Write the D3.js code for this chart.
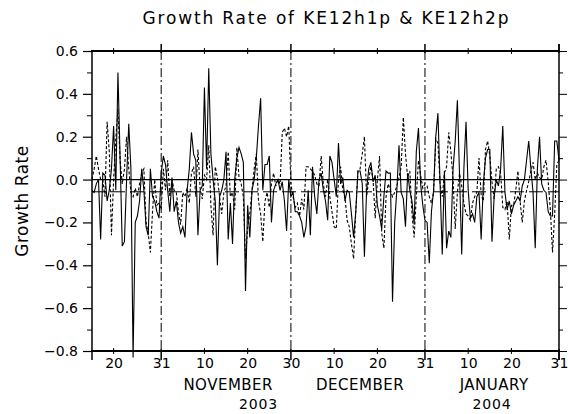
<!DOCTYPE html>
<html>
<head>
<meta charset="utf-8">
<script src="https://cdn.jsdelivr.net/npm/d3@7"></script>
<style>
  html, body { margin: 0; padding: 0; background: #fff; }
  svg { display: block; }
  text { font-family: "DejaVu Sans", sans-serif; fill: #000; }
</style>
</head>
<body>
<svg id="chart" width="568" height="414"></svg>
<script>
// ---- data (12-hourly samples starting 2003-10-15 00:00 UTC) ----
const startDate = "2003-10-15T00:00:00Z";
const stepHours = 12;

const ke12h1p = [
  -0.05,-0.06,-0.02,0.00,-0.28,0.03,0.02,-0.10,-0.05,0.05,
  0.25,-0.05,0.50,0.10,-0.31,-0.29,0.00,0.26,0.05,-0.83,
  -0.20,-0.17,-0.10,0.05,-0.05,-0.22,-0.26,0.05,-0.08,-0.10,
  -0.15,-0.18,0.03,0.11,0.07,-0.05,-0.15,0.01,-0.15,-0.10,
  -0.20,-0.25,-0.22,-0.27,-0.05,0.05,0.22,0.12,0.09,-0.26,
  -0.05,-0.03,0.43,0.05,0.52,0.12,0.00,-0.10,-0.40,-0.08,
  -0.05,0.00,0.13,-0.28,-0.11,-0.30,0.00,0.10,0.15,0.12,
  0.08,-0.52,-0.12,-0.27,-0.05,0.00,0.10,0.25,0.38,-0.05,
  0.07,0.07,0.11,-0.20,-0.05,-0.02,0.00,-0.05,-0.01,-0.10,
  -0.24,0.00,-0.08,-0.06,-0.15,-0.15,-0.17,-0.20,-0.27,-0.22,
  -0.05,-0.26,0.06,-0.08,-0.16,0.00,0.03,-0.05,-0.10,-0.19,
  0.11,0.08,0.00,-0.08,0.17,-0.02,0.01,-0.10,-0.05,-0.06,
  -0.16,-0.27,-0.15,0.04,0.04,-0.02,-0.36,-0.05,0.05,0.08,
  -0.01,0.02,-0.12,-0.17,-0.23,-0.08,0.04,0.03,0.03,-0.57,
  -0.20,-0.05,0.16,-0.06,-0.09,-0.22,0.03,-0.05,-0.10,-0.21,
  0.13,0.24,-0.02,-0.12,-0.19,-0.20,-0.39,-0.15,-0.05,0.20,
  0.31,-0.02,-0.35,0.04,-0.32,-0.24,-0.27,0.05,0.18,0.37,
  0.02,-0.35,0.05,0.27,-0.05,-0.18,-0.16,-0.20,-0.08,-0.06,
  -0.28,-0.02,0.10,0.14,0.14,-0.29,-0.08,0.00,-0.03,0.05,
  0.25,-0.06,-0.14,-0.10,-0.16,-0.12,-0.10,-0.08,-0.10,-0.03,
  0.00,0.09,0.18,0.05,-0.06,-0.32,0.05,0.20,-0.02,-0.05,
  -0.06,-0.15,-0.17,-0.17,0.18,0.18,0.09
];

const ke12h2p = [
  0.00,0.05,0.11,0.05,0.00,0.00,-0.08,0.27,0.13,-0.26,
  0.00,0.19,0.33,0.09,-0.02,0.05,0.20,0.05,-0.06,-0.08,
  -0.04,-0.08,-0.02,0.03,0.05,-0.20,-0.25,-0.34,-0.15,0.00,
  -0.12,-0.11,-0.14,0.05,-0.05,0.09,-0.08,0.00,-0.05,-0.06,
  -0.15,-0.21,-0.06,-0.08,-0.04,-0.11,0.03,0.06,-0.08,0.14,
  -0.04,-0.09,0.02,0.00,0.16,-0.12,-0.26,0.06,0.01,-0.08,
  -0.16,-0.06,-0.03,0.13,-0.08,-0.06,-0.14,0.15,0.01,-0.02,
  -0.08,-0.37,-0.22,-0.16,-0.05,0.05,0.12,-0.10,-0.16,-0.29,
  -0.10,-0.06,-0.13,-0.02,0.03,-0.03,0.00,-0.02,0.22,0.24,
  0.20,0.25,-0.02,-0.08,-0.13,-0.11,-0.17,-0.09,-0.14,0.06,
  0.06,0.05,0.04,0.02,-0.02,-0.03,0.11,-0.02,-0.08,0.00,
  -0.08,-0.15,-0.22,-0.23,0.00,0.06,-0.05,-0.08,-0.19,-0.22,
  -0.30,-0.37,-0.15,0.04,0.05,0.12,0.20,-0.08,0.00,0.06,
  0.00,-0.18,0.00,0.11,-0.25,-0.32,-0.08,-0.02,-0.05,-0.08,
  -0.06,-0.03,0.01,0.06,0.29,0.12,0.01,0.04,-0.16,-0.27,
  -0.08,0.09,0.02,-0.04,-0.02,-0.03,-0.08,-0.11,-0.06,0.19,
  0.17,-0.02,-0.08,0.03,0.06,0.22,0.13,0.00,-0.23,-0.06,
  0.03,-0.03,-0.11,-0.16,-0.17,-0.19,-0.11,-0.08,-0.06,0.10,
  -0.07,-0.10,0.14,0.18,0.11,-0.01,-0.09,0.05,0.06,0.03,
  -0.13,-0.14,-0.10,-0.28,-0.12,-0.12,-0.05,0.04,-0.10,-0.20,
  -0.10,-0.05,-0.01,0.04,0.08,0.00,0.03,0.01,0.00,0.06,
  0.09,-0.01,-0.14,-0.34,-0.16,0.07,0.09
];

const refLevels = [0.0, -0.057];          // horizontal reference lines
const yTicksMajor = [-0.8,-0.6,-0.4,-0.2,0.0,0.2,0.4,0.6];
const yTicksMinor = [-0.7,-0.5,-0.3,-0.1,0.1,0.3,0.5];
const xTickDates = ["2003-10-20","2003-10-31","2003-11-10","2003-11-20","2003-11-30",
                    "2003-12-10","2003-12-20","2003-12-31","2004-01-10","2004-01-20","2004-01-31"];
const xTickLabels = ["20","31","10","20","30","10","20","31","10","20","31"];
const monthEndDates = ["2003-10-31","2003-11-30","2003-12-31"];
const monthNames = ["NOVEMBER","DECEMBER","JANUARY"];
const monthMid = ["2003-11-15T12:00:00Z","2003-12-16T00:00:00Z","2004-01-16T00:00:00Z"];
const yearNames = ["2003","2004"];
const yearSpans = [["2003-10-15","2003-12-31"],["2003-12-31","2004-01-31"]];
const titleText = "Growth Rate of KE12h1p & KE12h2p";
const yLabel = "Growth Rate";

// ---- layout ----
const L = 92, R = 559, T = 51, B = 351;
const svg = d3.select("#chart");

const t0 = new Date(startDate);
const times = ke12h1p.map((_, i) => new Date(t0.getTime() + i * stepHours * 3600e3));
const x = d3.scaleUtc().domain([t0, new Date("2004-01-31T00:00:00Z")]).range([L, R]);
const y = d3.scaleLinear().domain([-0.8, 0.6]).range([B, T]);
const pd = s => new Date(s.length > 10 ? s : s + "T00:00:00Z");

// reference horizontal lines
svg.append("line").attr("x1", L).attr("x2", R).attr("y1", y(refLevels[0])).attr("y2", y(refLevels[0]))
  .attr("stroke", "#000").attr("stroke-width", 1.2);
svg.append("line").attr("x1", L).attr("x2", R).attr("y1", y(refLevels[1])).attr("y2", y(refLevels[1]))
  .attr("stroke", "#000").attr("stroke-width", 1).attr("stroke-dasharray", "14,5");

// month-boundary dash-dot verticals
svg.selectAll("line.mb").data(monthEndDates).enter().append("line")
  .attr("x1", d => x(pd(d))).attr("x2", d => x(pd(d)))
  .attr("y1", T).attr("y2", B)
  .attr("stroke", "#000").attr("stroke-width", 1).attr("stroke-dasharray", "9,3,2,3");

// series lines
const line = d3.line().x((d, i) => x(times[i])).y(d => y(d));
svg.append("path").datum(ke12h2p).attr("d", line)
  .attr("fill", "none").attr("stroke", "#000").attr("stroke-width", 1.1).attr("stroke-dasharray", "3,2");
svg.append("path").datum(ke12h1p).attr("d", line)
  .attr("fill", "none").attr("stroke", "#000").attr("stroke-width", 1.1);

// frame
svg.append("line").attr("x1", L - 1).attr("x2", R + 1).attr("y1", T).attr("y2", T).attr("stroke", "#000").attr("stroke-width", 2);
svg.append("line").attr("x1", L - 1).attr("x2", R + 1).attr("y1", B).attr("y2", B).attr("stroke", "#000").attr("stroke-width", 2);
svg.append("line").attr("x1", L).attr("x2", L).attr("y1", T).attr("y2", B + 9).attr("stroke", "#000").attr("stroke-width", 1.5);
svg.append("line").attr("x1", R).attr("x2", R).attr("y1", T - 7).attr("y2", B + 9).attr("stroke", "#000").attr("stroke-width", 1.5);

// y axis left
const yAxis = d3.axisLeft(y).tickValues(yTicksMajor).tickSize(9).tickPadding(5)
  .tickFormat(d3.format(".1f"));
const gy = svg.append("g").attr("transform", `translate(${L},0)`).call(yAxis);
gy.select(".domain").remove();
gy.selectAll(".tick line").attr("stroke-width", 1.2);
gy.selectAll(".tick text").style("font-size", "14px").style("font-family", "DejaVu Sans, sans-serif");
const gyMinor = svg.append("g").attr("transform", `translate(${L},0)`)
  .call(d3.axisLeft(y).tickValues(yTicksMinor).tickSize(5).tickFormat(""));
gyMinor.select(".domain").remove();

// y axis right
const gyr = svg.append("g").attr("transform", `translate(${R},0)`)
  .call(d3.axisRight(y).tickValues(yTicksMajor).tickSize(8).tickFormat(""));
gyr.select(".domain").remove();
const gyr2 = svg.append("g").attr("transform", `translate(${R},0)`)
  .call(d3.axisRight(y).tickValues(yTicksMinor).tickSize(4).tickFormat(""));
gyr2.select(".domain").remove();

// x axis bottom: labels
const xDates = xTickDates.map(pd);
const gx = svg.append("g").attr("transform", `translate(0,${B})`)
  .call(d3.axisBottom(x).tickValues(xDates).tickSize(0).tickPadding(7)
    .tickFormat((d, i) => xTickLabels[i]));
gx.select(".domain").remove();
gx.selectAll(".tick text").style("font-size", "14px").style("font-family", "DejaVu Sans, sans-serif");

// bottom & top tick marks
const isMonthEnd = d => monthEndDates.concat(["2004-01-31"]).some(m => +pd(m) === +d);
svg.selectAll("line.bt").data(xDates).enter().append("line")
  .attr("x1", d => x(d)).attr("x2", d => x(d))
  .attr("y1", d => isMonthEnd(d) ? B - 2 : B - 3)
  .attr("y2", d => isMonthEnd(d) ? B + 9 : B + 3)
  .attr("stroke", "#000").attr("stroke-width", d => isMonthEnd(d) ? 1.5 : 1);
svg.selectAll("line.tt").data(xDates).enter().append("line")
  .attr("x1", d => x(d)).attr("x2", d => x(d))
  .attr("y1", d => isMonthEnd(d) ? T - 7 : T - 3)
  .attr("y2", d => isMonthEnd(d) ? T + 2 : T + 3)
  .attr("stroke", "#000").attr("stroke-width", d => isMonthEnd(d) ? 1.5 : 1);

// month names
svg.selectAll("text.month").data(monthNames).enter().append("text")
  .attr("x", (d, i) => x(pd(monthMid[i]))).attr("y", 390)
  .attr("text-anchor", "middle").style("font-size", "15px").style("letter-spacing", "0.5px")
  .text(d => d);
// years
svg.selectAll("text.year").data(yearNames).enter().append("text")
  .attr("x", (d, i) => (x(pd(yearSpans[i][0])) + x(pd(yearSpans[i][1]))) / 2).attr("y", 409)
  .attr("text-anchor", "middle").style("font-size", "14px").style("letter-spacing", "0.8px")
  .text(d => d);

// title
svg.append("text").attr("x", (L + R) / 2).attr("y", 24).attr("text-anchor", "middle")
  .style("font-size", "17px").attr("textLength", 366).attr("lengthAdjust", "spacing")
  .text(titleText);

// y label
svg.append("text").attr("transform", `translate(28,${(T + B) / 2}) rotate(-90)`)
  .attr("text-anchor", "middle").style("font-size", "17px").style("letter-spacing", "0.5px")
  .text(yLabel);
</script>
</body>
</html>
